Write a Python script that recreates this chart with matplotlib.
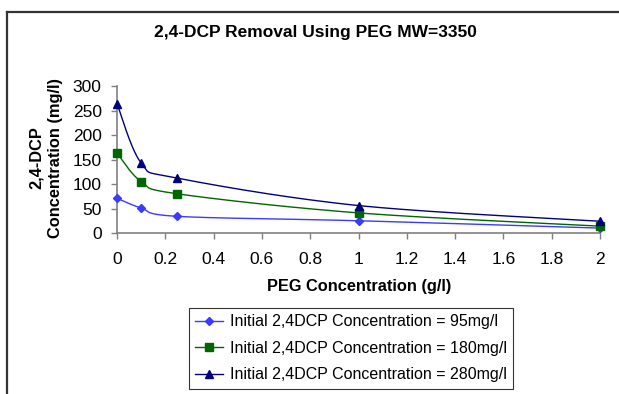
import numpy as np
import matplotlib
matplotlib.use("Agg")
import matplotlib.pyplot as plt
from matplotlib.lines import Line2D

plt.rcParams['font.family'] = ['Liberation Sans', 'DejaVu Sans']

peg = [0, 0.1, 0.25, 1, 2]
c95 = [71, 51, 34, 25, 10]
c180 = [163, 105, 80, 41, 14]
c280 = [264, 143, 112, 56, 24]

labels = ["Initial 2,4DCP Concentration = 95mg/l",
          "Initial 2,4DCP Concentration = 180mg/l",
          "Initial 2,4DCP Concentration = 280mg/l"]
colors = ["#3B3BFF", "#006600", "#000080"]
markers = ["D", "s", "^"]
msizes = [4.0, 5.5, 5.5]
x_ticks = [0, 0.2, 0.4, 0.6, 0.8, 1, 1.2, 1.4, 1.6, 1.8, 2]
y_ticks = [0, 50, 100, 150, 200, 250, 300]


def smooth(xs, ys, n=40):
    """Cubic Bezier spline through the points (Catmull-Rom style tangents)."""
    p = np.column_stack([xs, ys]).astype(float)
    ext = np.vstack([p[0], p, p[-1]])
    out = []
    t = np.linspace(0, 1, n)[:, None]
    for i in range(len(p) - 1):
        p0, p3 = ext[i + 1], ext[i + 2]
        c1 = p0 + (ext[i + 2] - ext[i]) / 6.0
        c2 = p3 - (ext[i + 3] - ext[i + 1]) / 6.0
        seg = ((1 - t) ** 3) * p0 + 3 * ((1 - t) ** 2) * t * c1 \
            + 3 * (1 - t) * t ** 2 * c2 + t ** 3 * p3
        out.append(seg if i == 0 else seg[1:])
    s = np.vstack(out)
    return s[:, 0], s[:, 1]


fig = plt.figure(figsize=(6.19, 3.94), dpi=100)
ax = fig.add_axes([117 / 619, 1 - 233 / 394, (600 - 117) / 619, (233 - 86) / 394])

handles = []
for ys, col, mk, ms, lab in zip([c95, c180, c280], colors, markers, msizes, labels):
    sx, sy = smooth(peg, ys)
    ax.plot(sx, sy, color=col, lw=1.0, zorder=2)
    ax.plot(peg, ys, linestyle='none', marker=mk, color=col, ms=ms, zorder=3)
    handles.append(Line2D([0], [0], color=col, lw=1.0, marker=mk, ms=ms))

ax.set_xlim(0, 2)
ax.set_ylim(0, 300)
ax.set_xticks(x_ticks)
ax.set_xticklabels([f"{v:g}" for v in x_ticks])
ax.set_yticks(y_ticks)
for s in ['top', 'right']:
    ax.spines[s].set_visible(False)
for s in ['left', 'bottom']:
    ax.spines[s].set_color('#808080')
    ax.spines[s].set_linewidth(1.2)
ax.tick_params(axis='both', direction='out', length=4, width=1, color='#808080',
               labelsize=12.5, labelcolor='black')
ax.tick_params(axis='x', pad=10)
ax.tick_params(axis='y', pad=7)
for line in ax.lines:
    line.set_clip_on(False)

fig.text(315 / 619, 1 - 33 / 394, "2,4-DCP Removal Using PEG MW=3350",
         ha='center', va='center', fontsize=12.5, fontweight='bold')
fig.text(359 / 619, 1 - 287 / 394, "PEG Concentration (g/l)",
         ha='center', va='center', fontsize=11.8, fontweight='bold')
fig.text(46 / 619, 1 - 158 / 394, "2,4-DCP\nConcentration (mg/l)",
         ha='center', va='center', rotation=90, fontsize=11.8,
         fontweight='bold', linespacing=1.36)

leg = fig.legend(handles, labels, loc='upper left',
                 bbox_to_anchor=(189 / 619, 1 - 308 / 394),
                 fontsize=11.5, frameon=True, fancybox=False,
                 borderpad=0.4, labelspacing=0.72, handlelength=1.75,
                 handletextpad=0.4, borderaxespad=0)
leg.get_frame().set_edgecolor('black')
leg.get_frame().set_linewidth(0.8)

# outer chart frame
fig.add_artist(Line2D([7 / 619, 7 / 619], [0, 1 - 12 / 394], color='#333333',
                      lw=1.6, transform=fig.transFigure))
fig.add_artist(Line2D([7 / 619, 1], [1 - 12 / 394, 1 - 12 / 394], color='#333333',
                      lw=1.6, transform=fig.transFigure))

fig.savefig("out.png", dpi=100)
